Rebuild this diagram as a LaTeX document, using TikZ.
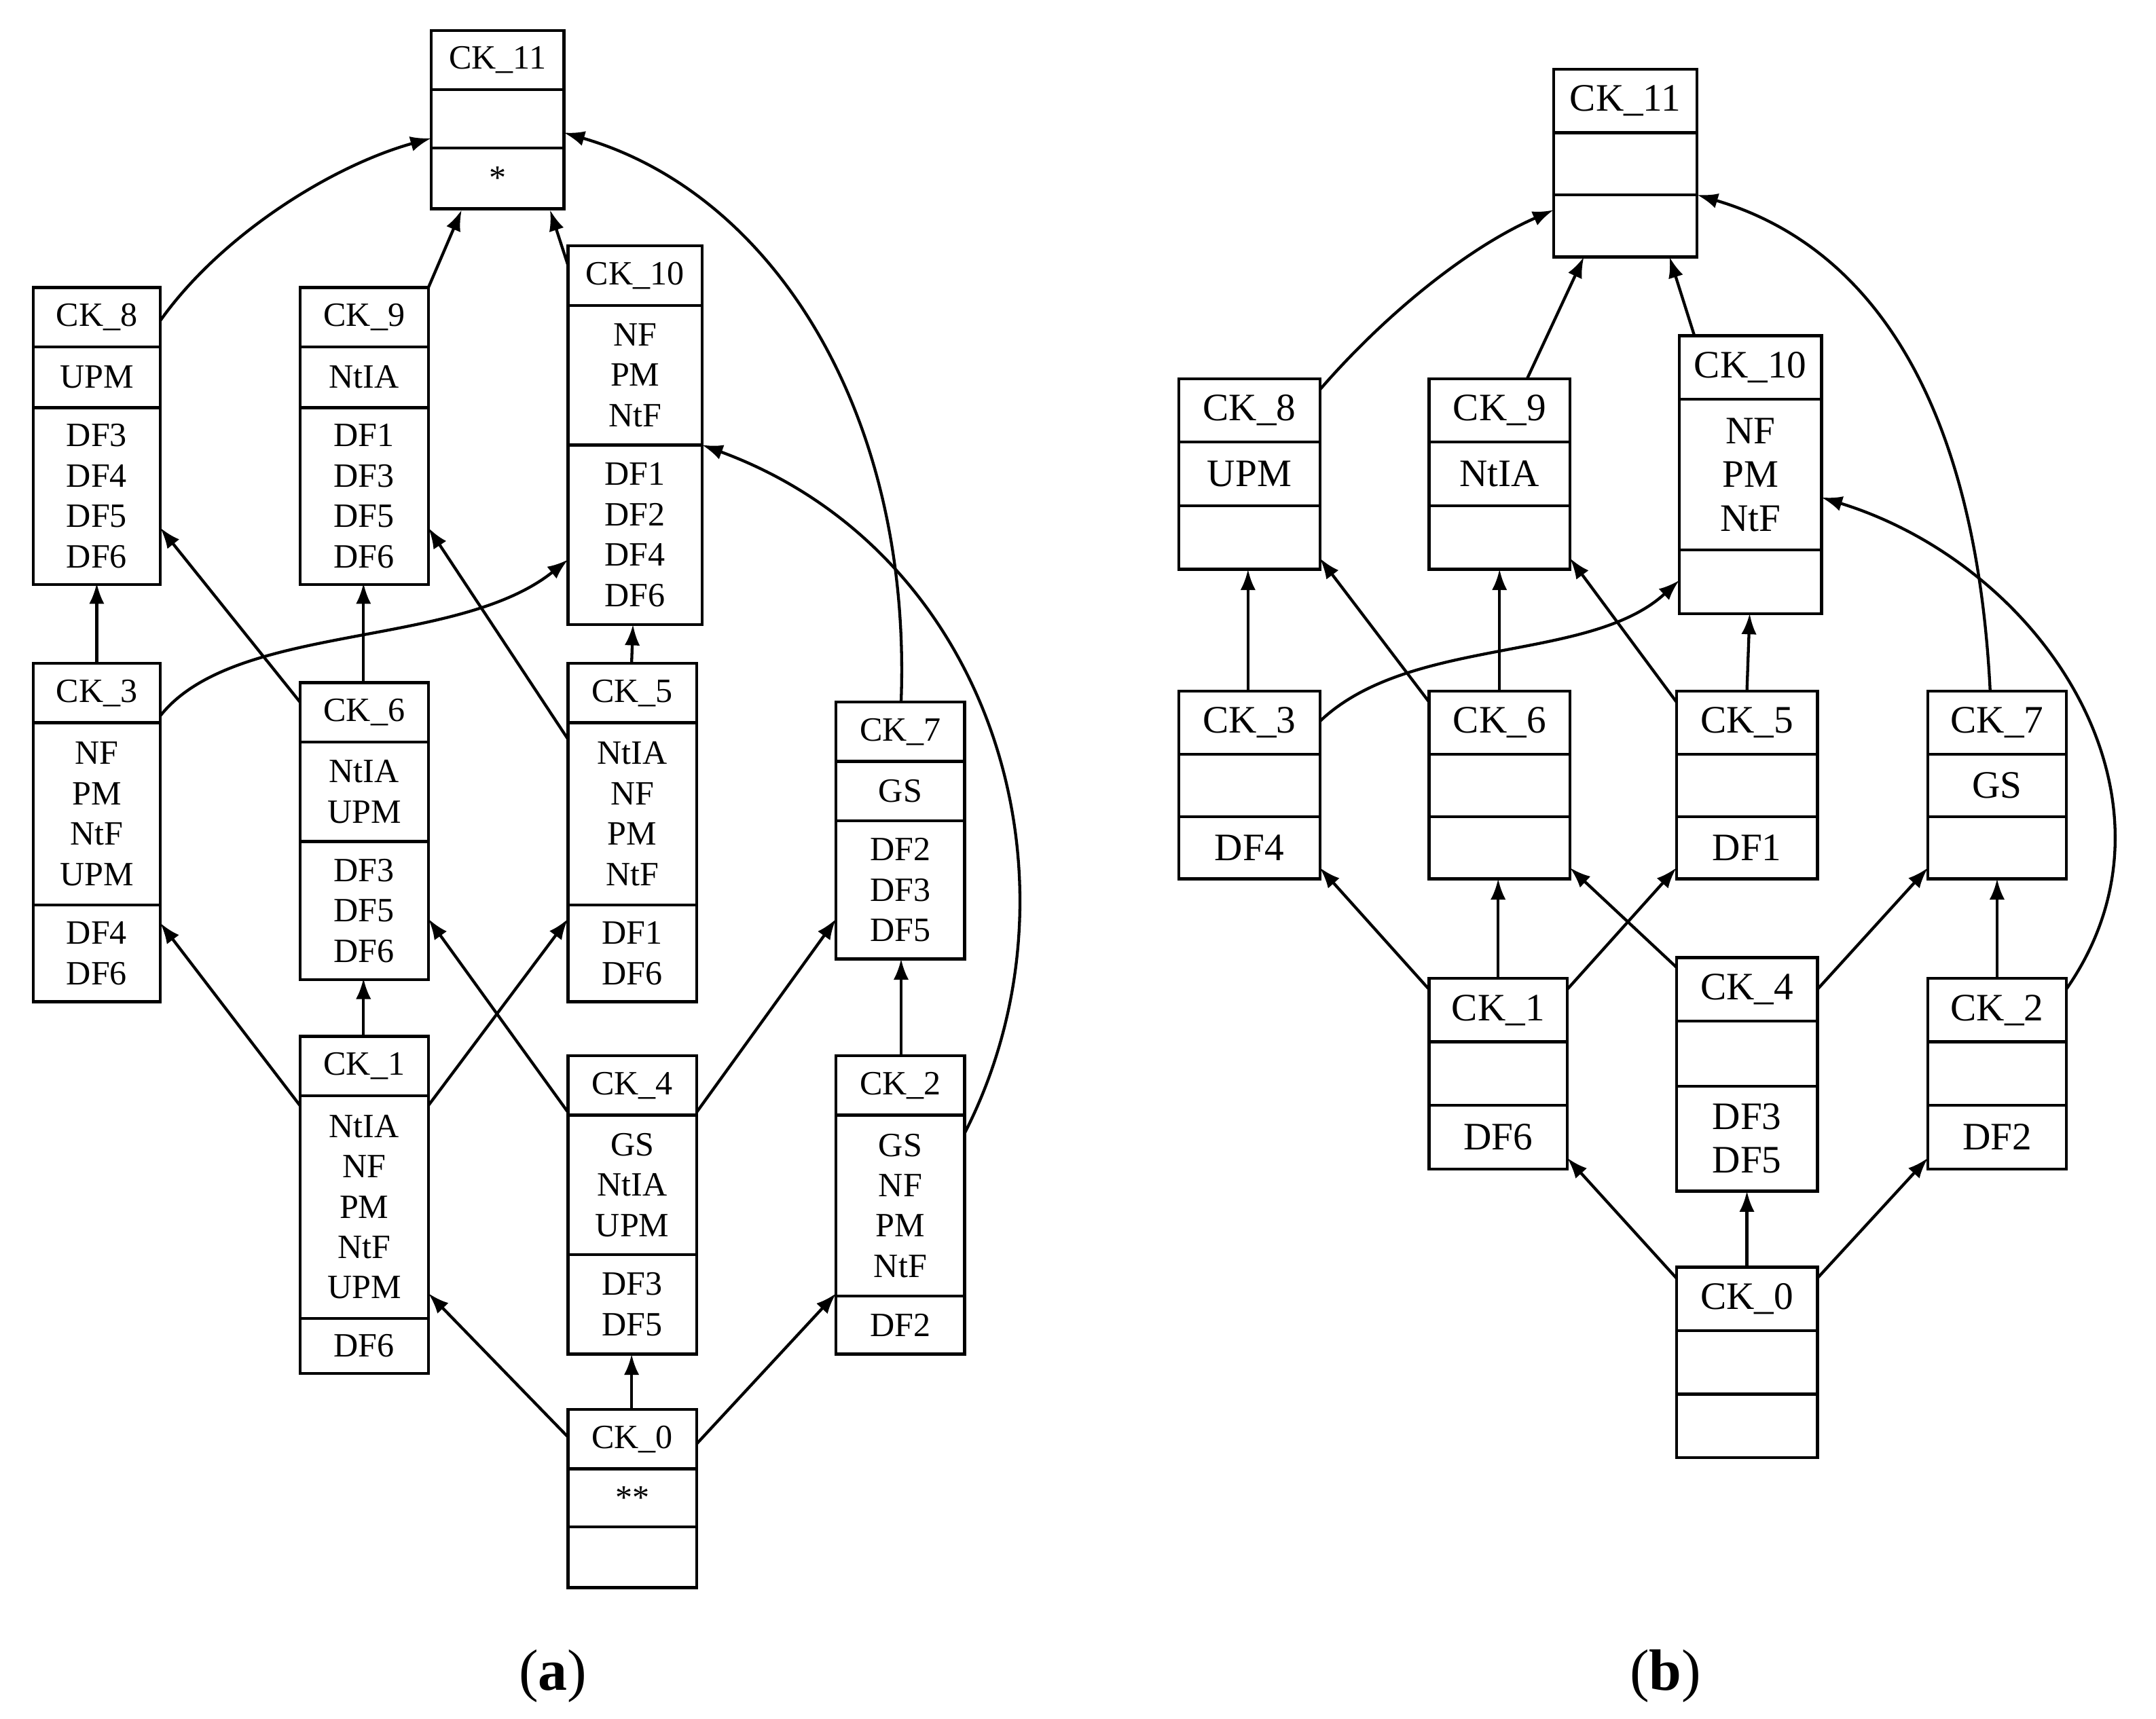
\documentclass[tikz,border=0pt]{standalone}
\usepackage{fontspec}
\setmainfont{Liberation Serif}
\usetikzlibrary{arrows.meta,calc}
\newcommand\hone{43}
\newcommand\txtfont{\fontsize{7}{8.3}\selectfont}
\newcommand\ckb[9]{%
 \node[draw,line width=0.6pt,anchor=north west,inner sep=0,outer sep=0,minimum width={#4*0.01cm},minimum height={(\hone+#5+#6)*0.01cm}] (#1) at (#2,#3) {};
 \draw[line width=0.6pt] (#2,#3+\hone) -- ++(#4,0);
 \draw[line width=0.6pt] (#2,#3+\hone+#5) -- ++(#4,0);
 \node[txt] at (#2+#4/2,#3+\hone/2) {#7};
 \node[txt] at (#2+#4/2,#3+\hone+#5/2) {#8};
 \node[txt] at (#2+#4/2,#3+\hone+#5+#6/2) {#9};
}
\begin{document}
\begin{tikzpicture}[x=0.01cm,y=-0.01cm,
 txt/.style={font=\txtfont,align=center,inner sep=0},
 arr/.style={line width=0.6pt,-{Latex[length=0.15cm,width=0.11cm]}}]
\useasboundingbox (0,0) rectangle (1560,1244);
% panel a
\ckb{a11}{312}{22}{96}{42}{44}{CK\_11}{}{*}
\ckb{a8}{24}{208}{92}{44}{128}{CK\_8}{UPM}{DF3\\DF4\\DF5\\DF6}
\ckb{a9}{217}{208}{93}{44}{128}{CK\_9}{NtIA}{DF1\\DF3\\DF5\\DF6}
\ckb{a10}{411}{178}{97}{101}{130}{CK\_10}{NF\\PM\\NtF}{DF1\\DF2\\DF4\\DF6}
\ckb{a3}{24}{480}{92}{132}{70}{CK\_3}{NF\\PM\\NtF\\UPM}{DF4\\DF6}
\ckb{a6}{217}{494}{93}{72}{100}{CK\_6}{NtIA\\UPM}{DF3\\DF5\\DF6}
\ckb{a5}{411}{480}{93}{132}{70}{CK\_5}{NtIA\\NF\\PM\\NtF}{DF1\\DF6}
\ckb{a7}{605}{508}{93}{43}{100}{CK\_7}{GS}{DF2\\DF3\\DF5}
\ckb{a1}{217}{750}{93}{161}{40}{CK\_1}{NtIA\\NF\\PM\\NtF\\UPM}{DF6}
\ckb{a4}{411}{764}{93}{101}{72}{CK\_4}{GS\\NtIA\\UPM}{DF3\\DF5}
\ckb{a2}{605}{764}{93}{131}{42}{CK\_2}{GS\\NF\\PM\\NtF}{DF2}
\ckb{a0}{411}{1020}{93}{42}{44}{CK\_0}{**}{}
\draw[arr] ($(a8.north west)+(92,24)$) .. controls (160,170) and (240,120) .. ($(a11.north west)+(0,78)$);
\draw[arr] ($(a9.north west)+(93,0)$) -- ($(a11.north west)+(22,130)$);
\draw[arr] ($(a10.north west)+(0,14)$) -- ($(a11.north west)+(86,130)$);
\draw[arr] ($(a7.north west)+(47,0)$) .. controls (660,300) and (560,140) .. ($(a11.north west)+(96,74)$);
\draw[arr] ($(a3.north west)+(46,0)$) -- ($(a8.north west)+(46,214)$);
\draw[arr] ($(a3.north west)+(92,38)$) .. controls (170,450) and (330,470) .. ($(a10.north west)+(0,227)$);
\draw[arr] ($(a6.north west)+(0,14)$) -- ($(a8.north west)+(92,174)$);
\draw[arr] ($(a6.north west)+(46,0)$) -- ($(a9.north west)+(46,214)$);
\draw[arr] ($(a5.north west)+(0,55)$) -- ($(a9.north west)+(93,174)$);
\draw[arr] ($(a5.north west)+(46,0)$) -- ($(a10.north west)+(47,274)$);
\draw[arr] ($(a2.north west)+(93,56)$) .. controls (790,640) and (720,400) .. ($(a10.north west)+(97,144)$);
\draw[arr] ($(a1.north west)+(0,50)$) -- ($(a3.north west)+(92,188)$);
\draw[arr] ($(a1.north west)+(46,0)$) -- ($(a6.north west)+(46,214)$);
\draw[arr] ($(a1.north west)+(93,50)$) -- ($(a5.north west)+(0,185)$);
\draw[arr] ($(a4.north west)+(0,41)$) -- ($(a6.north west)+(93,171)$);
\draw[arr] ($(a4.north west)+(93,41)$) -- ($(a7.north west)+(0,157)$);
\draw[arr] ($(a2.north west)+(47,0)$) -- ($(a7.north west)+(47,186)$);
\draw[arr] ($(a0.north west)+(0,20)$) -- ($(a1.north west)+(93,186)$);
\draw[arr] ($(a0.north west)+(46,0)$) -- ($(a4.north west)+(46,216)$);
\draw[arr] ($(a0.north west)+(93,25)$) -- ($(a2.north west)+(0,172)$);
\node[font=\fontsize{12}{14}\selectfont] (la) at (400,1213) {(\textbf{a})};
% panel b
\renewcommand\hone{46}
\renewcommand\txtfont{\fontsize{8}{9}\selectfont}
\ckb{b11}{1124}{50}{104}{45}{45}{CK\_11}{}{}
\ckb{b8}{853}{274}{102}{46}{46}{CK\_8}{UPM}{}
\ckb{b9}{1034}{274}{102}{46}{46}{CK\_9}{NtIA}{}
\ckb{b10}{1215}{243}{103}{109}{46}{CK\_10}{NF\\PM\\NtF}{}
\ckb{b3}{853}{500}{102}{45}{45}{CK\_3}{}{DF4}
\ckb{b6}{1034}{500}{102}{45}{45}{CK\_6}{}{}
\ckb{b5}{1213}{500}{102}{45}{45}{CK\_5}{}{DF1}
\ckb{b7}{1395}{500}{100}{45}{45}{CK\_7}{GS}{}
\ckb{b1}{1034}{708}{100}{46}{46}{CK\_1}{}{DF6}
\ckb{b4}{1213}{693}{102}{47}{76}{CK\_4}{}{DF3\\DF5}
\ckb{b2}{1395}{708}{100}{46}{46}{CK\_2}{}{DF2}
\ckb{b0}{1213}{917}{102}{46}{46}{CK\_0}{}{}
\draw[arr] ($(b8.north west)+(102,8)$) .. controls (1000,230) and (1060,180) .. ($(b11.north west)+(0,102)$);
\draw[arr] ($(b9.north west)+(71,0)$) -- ($(b11.north west)+(22,136)$);
\draw[arr] ($(b10.north west)+(11,0)$) -- ($(b11.north west)+(84,136)$);
\draw[arr] ($(b7.north west)+(45,0)$) .. controls (1430,300) and (1360,180) .. ($(b11.north west)+(104,91)$);
\draw[arr] ($(b3.north west)+(50,0)$) -- ($(b8.north west)+(50,138)$);
\draw[arr] ($(b3.north west)+(102,22)$) .. controls (1020,460) and (1150,480) .. ($(b10.north west)+(0,177)$);
\draw[arr] ($(b6.north west)+(0,8)$) -- ($(b8.north west)+(102,130)$);
\draw[arr] ($(b6.north west)+(51,0)$) -- ($(b9.north west)+(51,138)$);
\draw[arr] ($(b5.north west)+(0,8)$) -- ($(b9.north west)+(102,130)$);
\draw[arr] ($(b5.north west)+(51,0)$) -- ($(b10.north west)+(51,201)$);
\draw[arr] ($(b2.north west)+(100,8)$) .. controls (1590,580) and (1480,410) .. ($(b10.north west)+(103,117)$);
\draw[arr] ($(b1.north west)+(0,8)$) -- ($(b3.north west)+(102,128)$);
\draw[arr] ($(b1.north west)+(50,0)$) -- ($(b6.north west)+(50,136)$);
\draw[arr] ($(b1.north west)+(100,8)$) -- ($(b5.north west)+(0,128)$);
\draw[arr] ($(b4.north west)+(0,7)$) -- ($(b6.north west)+(102,128)$);
\draw[arr] ($(b4.north west)+(102,23)$) -- ($(b7.north west)+(0,128)$);
\draw[arr] ($(b2.north west)+(50,0)$) -- ($(b7.north west)+(50,136)$);
\draw[arr] ($(b0.north west)+(0,8)$) -- ($(b1.north west)+(100,130)$);
\draw[arr] ($(b0.north west)+(51,0)$) -- ($(b4.north west)+(51,169)$);
\draw[arr] ($(b0.north west)+(102,8)$) -- ($(b2.north west)+(0,130)$);
\node[font=\fontsize{12}{14}\selectfont] (lb) at (1205,1213) {(\textbf{b})};
\end{tikzpicture}
\end{document}
